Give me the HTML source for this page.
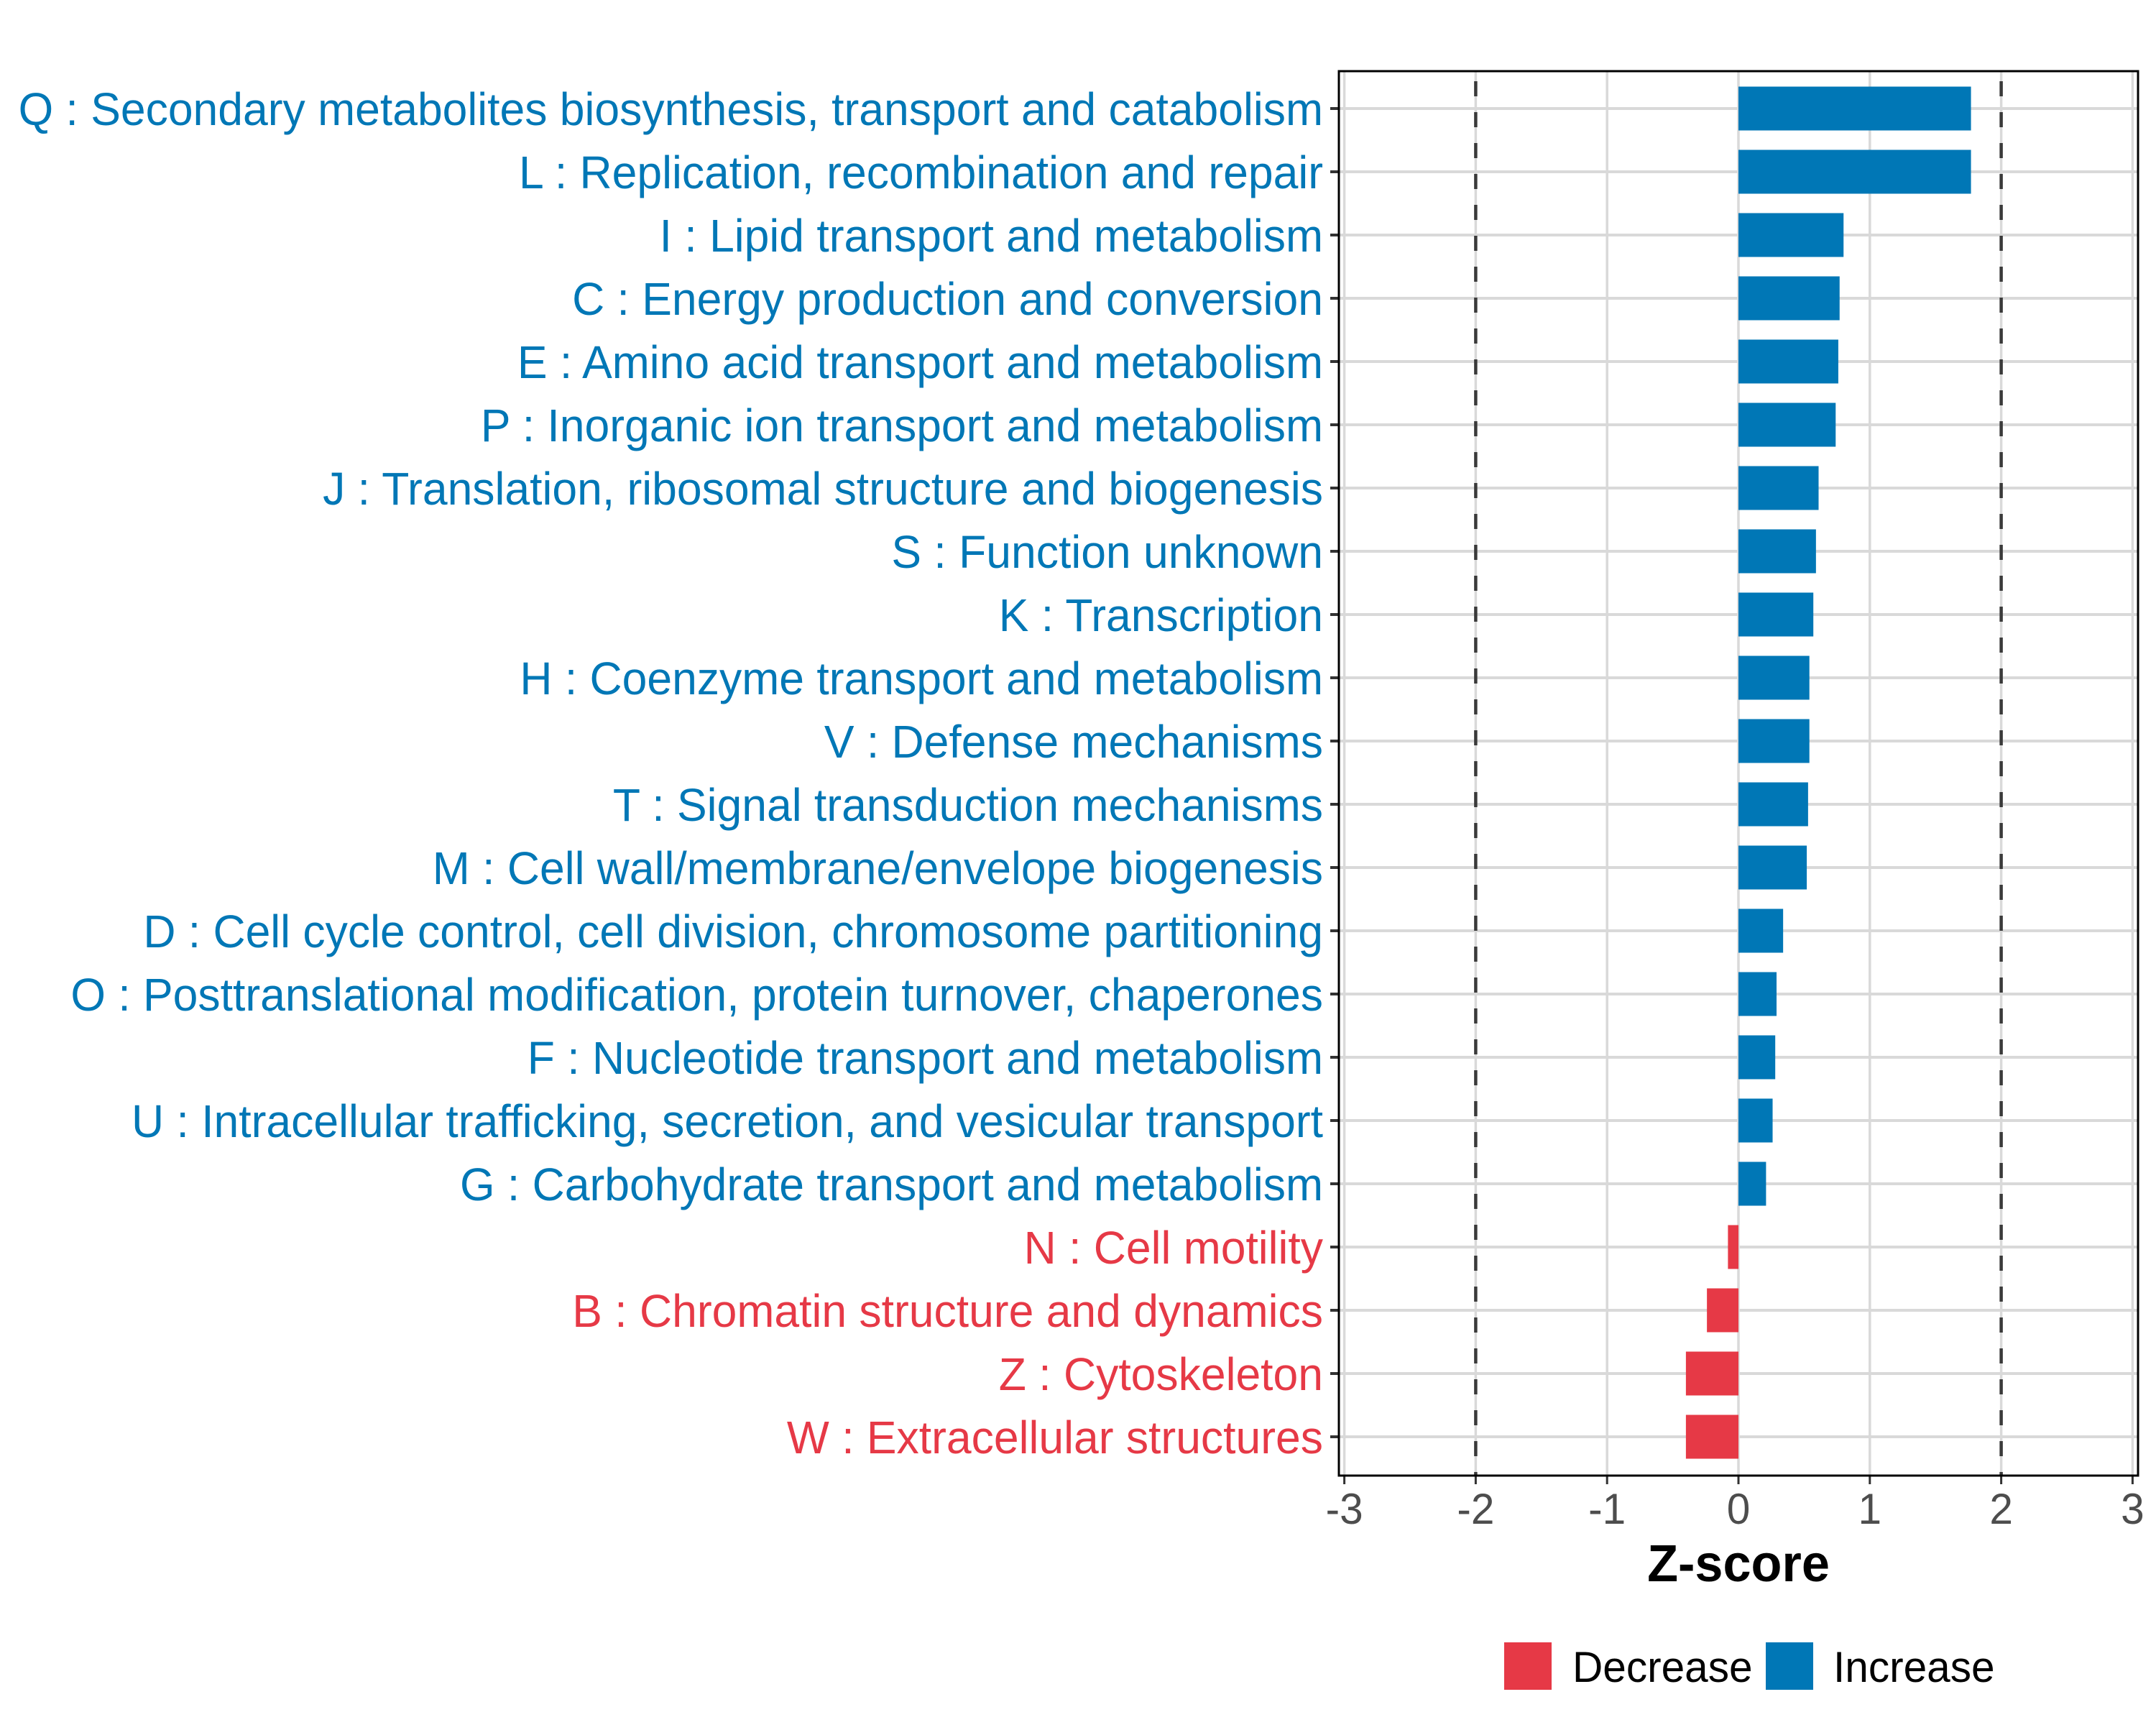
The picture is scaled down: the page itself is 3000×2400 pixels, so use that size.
<!DOCTYPE html>
<html><head><meta charset="utf-8">
<style>html,body{margin:0;padding:0;background:#fff;}svg{display:block;}</style>
</head><body>
<svg id="chart" xmlns="http://www.w3.org/2000/svg" width="3000" height="2400" viewBox="0 0 3000 2400" font-family="Liberation Sans, sans-serif">
<rect width="3000" height="2400" fill="#fff"/>
<g id="grid"></g><g id="bars"></g><g id="axes"></g><g id="labels"></g>
<text id="xtitle" x="0" y="0" font-size="72" font-weight="bold" text-anchor="middle" fill="#000">Z-score</text>
<g>
<rect x="2093" y="2285" width="66" height="66" fill="#E63946"/>
<text class="sc" data-x="2188" data-y="2340" font-size="60" fill="#000">Decrease</text>
<rect x="2457" y="2285" width="66" height="66" fill="#0077B6"/>
<text class="sc" data-x="2551" data-y="2340" font-size="60" fill="#000">Increase</text>
</g>
</svg>
<script>
const categories = ["Q : Secondary metabolites biosynthesis, transport and catabolism","L : Replication, recombination and repair","I : Lipid transport and metabolism","C : Energy production and conversion","E : Amino acid transport and metabolism","P : Inorganic ion transport and metabolism","J : Translation, ribosomal structure and biogenesis","S : Function unknown","K : Transcription","H : Coenzyme transport and metabolism","V : Defense mechanisms","T : Signal transduction mechanisms","M : Cell wall/membrane/envelope biogenesis","D : Cell cycle control, cell division, chromosome partitioning","O : Posttranslational modification, protein turnover, chaperones","F : Nucleotide transport and metabolism","U : Intracellular trafficking, secretion, and vesicular transport","G : Carbohydrate transport and metabolism","N : Cell motility","B : Chromatin structure and dynamics","Z : Cytoskeleton","W : Extracellular structures"];
const zscores = [1.77,1.77,0.80,0.77,0.76,0.74,0.61,0.59,0.57,0.54,0.54,0.53,0.52,0.34,0.29,0.28,0.26,0.21,-0.08,-0.24,-0.40,-0.40];
const xTicks = [-3,-2,-1,0,1,2,3];
const xTickLabels = ["-3","-2","-1","0","1","2","3"];
const thresholds = [-2,2];

const NS="http://www.w3.org/2000/svg";
const P={l:1863,r:2975,t:99,b:2053};
const x0=2419, unit=182.8;
const xs=v=>x0+v*unit;
const step=88, y0=151;
const ys=i=>y0+i*step;
function mk(tag,attrs,parent){const e=document.createElementNS(NS,tag);for(const k in attrs)e.setAttribute(k,attrs[k]);parent.appendChild(e);return e;}
const grid=document.getElementById('grid'),bars=document.getElementById('bars'),axes=document.getElementById('axes'),labels=document.getElementById('labels');

const tickTexts=[];
xTicks.forEach((t,i)=>{
  const l=mk('line',{x1:xs(t),x2:xs(t),y1:P.t,y2:P.b,stroke:'#d9d9d9','stroke-width':3.5},grid);
  
  
  const tk=mk('line',{x1:xs(t),x2:xs(t),y1:P.b,y2:P.b+12,stroke:'#333','stroke-width':3},axes);
  
  
  const tx=mk('text',{'font-size':60,'text-anchor':'middle',fill:'#4d4d4d'},axes);
  tx.textContent=xTickLabels[i];
  
  
  tickTexts.push([tx,xs(t)]);
});
categories.forEach((c,i)=>{
  const g=mk('line',{x1:P.l,x2:P.r,y1:ys(i),y2:ys(i),stroke:'#d9d9d9','stroke-width':4},grid);
  
  
});
thresholds.forEach(t=>{
  const d=mk('line',{x1:xs(t),x2:xs(t),y1:P.t,y2:P.b,stroke:'#3a3a3a','stroke-width':4.5,'stroke-dasharray':'21 22','stroke-dashoffset':'-14'},grid);
  
  
});
const bh=61;
zscores.forEach((v,i)=>{
  const col=v<0?'#E63946':'#0077B6';
  const r=mk('rect',{x:Math.min(xs(0),xs(v)),y:ys(i)-bh/2,width:Math.abs(xs(v)-xs(0)),height:bh,fill:col},bars);
  
  
  const tk=mk('line',{x1:P.l-12,x2:P.l,y1:ys(i),y2:ys(i),stroke:'#333','stroke-width':4},axes);
  
  
  const t=mk('text',{x:0,y:0,'font-size':64,'text-anchor':'end',fill:col},labels);
  t.textContent=categories[i];
  
  
});
const b=mk('rect',{x:P.l,y:P.t,width:P.r-P.l,height:P.b-P.t,fill:'none',stroke:'#000','stroke-width':3},axes);


const texts=labels.querySelectorAll('text');
let f=1;
try{const w=texts[0].getComputedTextLength();if(w>0)f=(1841-25)/w;}catch(e){}
texts.forEach((t,i)=>{t.setAttribute('transform','translate(1841,'+(ys(i)+23)+') scale('+f+',1)');});
tickTexts.forEach(([t,x])=>{t.setAttribute('transform','translate('+x+',2120) scale('+f+',1)');});
document.getElementById('xtitle').setAttribute('transform','translate(2419,2200) scale('+f+',1)');
document.querySelectorAll('text.sc').forEach(t=>{t.setAttribute('transform','translate('+t.getAttribute('data-x')+','+t.getAttribute('data-y')+') scale('+f+',1)');});
</script>
</body></html>
